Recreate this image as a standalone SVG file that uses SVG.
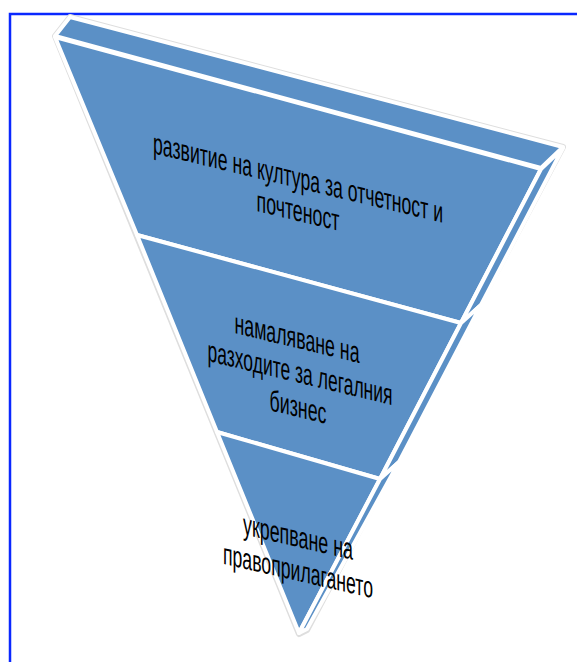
<svg xmlns="http://www.w3.org/2000/svg" width="577" height="662" viewBox="0 0 577 662">
  <style>
    .face { fill: #5b90c6; stroke: #ffffff; stroke-width: 4; stroke-linejoin: round; }
    .halo { fill: none; stroke: #dedede; stroke-width: 6; stroke-linejoin: round; }
    .lbl { font-family: "Liberation Sans", Arial, sans-serif; font-size: 30px; fill: #000000; text-anchor: middle; }
  </style>
  <rect x="10" y="14" width="620" height="700" fill="none" stroke="#0a28ff" stroke-width="2.5"/>
  <g id="pyramid">
    <polygon class="halo" points="55,36 70,17 563,147 307,630 299,634"/>
    <g id="layer1">
      <polygon class="face" points="55,36 70,17 563,147 541,168"/>
      <polygon class="face" points="55,37 541,169 461,323 137,235"/>
      <polygon class="face" points="541,169 563,148 481,305 461,323"/>
      <text class="lbl" transform="translate(298,188) skewY(13.5)" x="0" y="0" textLength="290" lengthAdjust="spacingAndGlyphs">развитие на култура за отчетност и</text>
      <text class="lbl" transform="translate(298,221) skewY(13.5)" x="0" y="0" textLength="83" lengthAdjust="spacingAndGlyphs">почтеност</text>
    </g>
    <g id="layer2">
      <polygon class="face" points="137,235 461,323 380,479 217,432"/>
      <polygon class="face" points="461,323 481,305 399,462 380,479"/>
      <text class="lbl" transform="translate(297,348) skewY(13.5)" x="0" y="0" textLength="125" lengthAdjust="spacingAndGlyphs">намаляване на</text>
      <text class="lbl" transform="translate(300,383) skewY(13.5)" x="0" y="0" textLength="185" lengthAdjust="spacingAndGlyphs">разходите за легалния</text>
      <text class="lbl" transform="translate(298,417) skewY(13.5)" x="0" y="0" textLength="57" lengthAdjust="spacingAndGlyphs">бизнес</text>
    </g>
    <g id="layer3">
      <polygon class="face" points="217,432 380,479 299,633"/>
      <polygon class="face" points="380,479 399,462 307,629 299,633"/>
      <text class="lbl" transform="translate(298,547) skewY(13)" x="0" y="0" textLength="110" lengthAdjust="spacingAndGlyphs">укрепване на</text>
      <text class="lbl" transform="translate(298,581) skewY(13)" x="0" y="0" textLength="150" lengthAdjust="spacingAndGlyphs">правоприлагането</text>
    </g>
  </g>
</svg>
